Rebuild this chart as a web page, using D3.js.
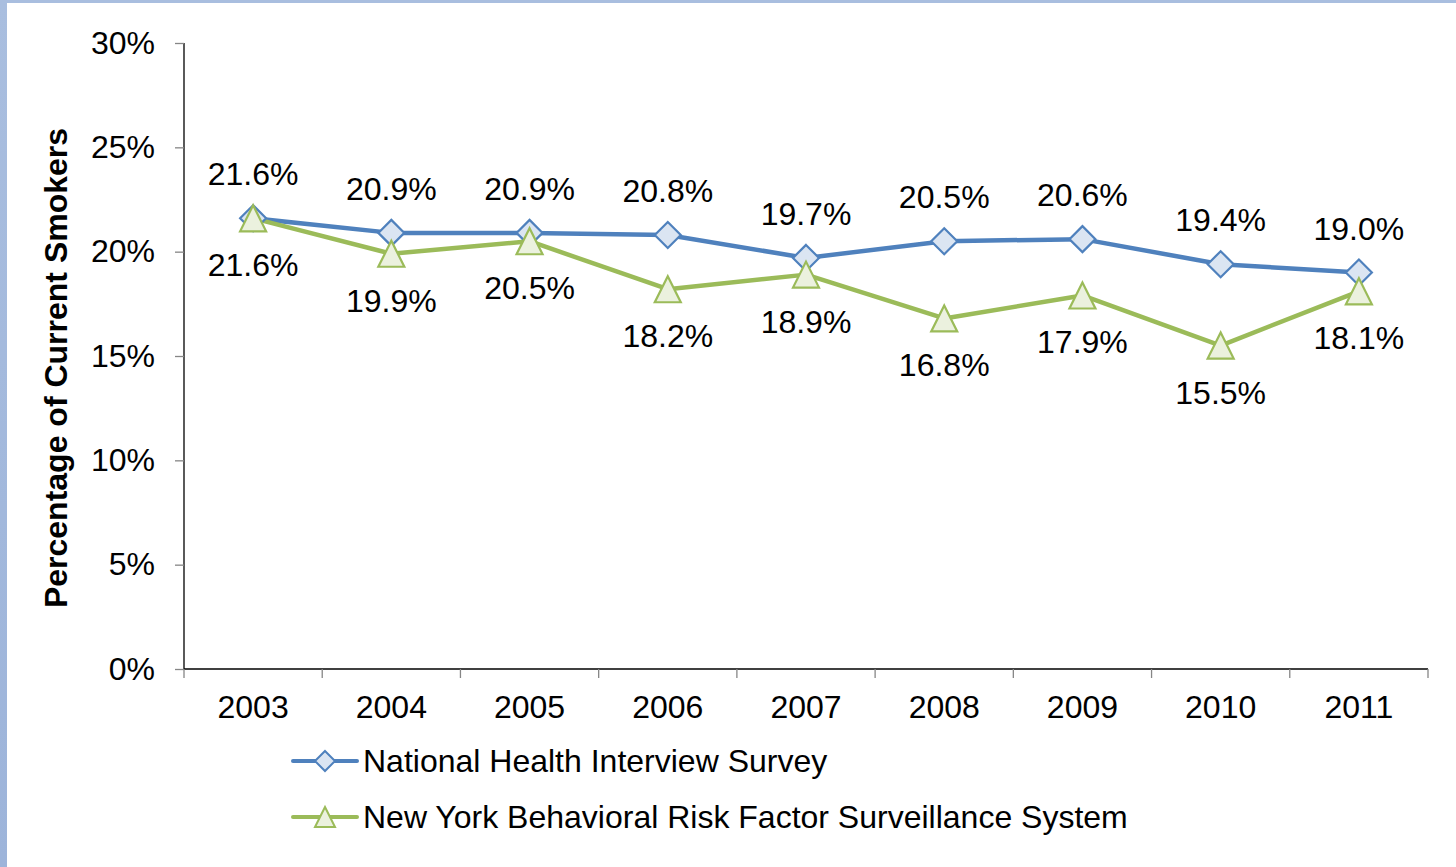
<!DOCTYPE html>
<html>
<head>
<meta charset="utf-8">
<script src="https://cdn.jsdelivr.net/npm/d3@7"></script>
<style>
  html, body { margin: 0; padding: 0; background: #fff; }
  svg { display: block; font-family: "Liberation Sans", Arial, sans-serif; }
</style>
</head>
<body>
<svg id="chart" width="1456" height="867"></svg>
<script>
// Smoking prevalence, 2003–2011
const years = ["2003", "2004", "2005", "2006", "2007", "2008", "2009", "2010", "2011"];
const nhisValues = [21.6, 20.9, 20.9, 20.8, 19.7, 20.5, 20.6, 19.4, 19.0];
const nyBrfssValues = [21.6, 19.9, 20.5, 18.2, 18.9, 16.8, 17.9, 15.5, 18.1];
const yTicks = [0, 5, 10, 15, 20, 25, 30];
const seriesNames = ["National Health Interview Survey", "New York Behavioral Risk Factor Surveillance System"];

const svg = d3.select("#chart");
const W = 1456, H = 867;
const FS = 32;

// frame strips along the left and top edges
const grad = svg.append("defs").append("linearGradient")
  .attr("id", "edge").attr("x1", 0).attr("y1", 0).attr("x2", 0).attr("y2", 1);
grad.append("stop").attr("offset", "0%").attr("stop-color", "#a9bedf");
grad.append("stop").attr("offset", "100%").attr("stop-color", "#9db4da");
svg.append("rect").attr("x", 0).attr("y", 0).attr("width", W).attr("height", 3).attr("fill", "#a9bedf");
svg.append("rect").attr("x", 0).attr("y", 0).attr("width", 7).attr("height", H).attr("fill", "url(#edge)");

const plotLeft = 184, plotRight = 1428, plotTop = 43, plotBottom = 669;

const x = d3.scaleBand().domain(years).range([plotLeft, plotRight]).padding(0);
const y = d3.scaleLinear().domain([0, 30]).range([plotBottom, plotTop]);
const cx = d => x(d) + x.bandwidth() / 2;

// y axis
const yAxis = svg.append("g").attr("transform", `translate(${plotLeft},0)`)
  .call(d3.axisLeft(y).tickValues(yTicks).tickFormat(d => d + "%").tickSize(9).tickPadding(20));
yAxis.select(".domain").attr("stroke", "#000").attr("stroke-width", 1.3).attr("d", `M0,${plotTop}V${plotBottom}`);
yAxis.selectAll(".tick line").attr("stroke", "#868686").attr("stroke-width", 1.3);
yAxis.selectAll(".tick text").attr("font-size", FS).attr("fill", "#000")
  .attr("font-family", "Liberation Sans, Arial, sans-serif");

// x axis with boundary ticks between categories
const xAxis = svg.append("g").attr("transform", `translate(0,${plotBottom})`)
  .call(d3.axisBottom(x).tickSize(0).tickPadding(26));
xAxis.select(".domain").attr("stroke", "#000").attr("stroke-width", 1.3).attr("d", `M${plotLeft},0H${plotRight}`);
xAxis.selectAll(".tick text").attr("font-size", FS).attr("fill", "#000")
  .attr("font-family", "Liberation Sans, Arial, sans-serif");
const bounds = years.map(d => x(d)).concat([x(years[years.length - 1]) + x.bandwidth()]);
xAxis.selectAll(".bound").data(bounds).join("line")
  .attr("x1", d => d).attr("x2", d => d).attr("y1", 0).attr("y2", 9)
  .attr("stroke", "#868686").attr("stroke-width", 1.3);

// y axis title
svg.append("text")
  .attr("transform", `translate(67,${(plotTop + plotBottom) / 2 + 12}) rotate(-90)`)
  .attr("text-anchor", "middle").attr("font-size", FS).attr("font-weight", "bold")
  .text("Percentage of Current Smokers");

const line = d3.line().x((d, i) => cx(years[i])).y(d => y(d));

const blue = "#4f81bd", blueFill = "#dbe5f2";
const green = "#9bbb59", greenFill = "#ebf1de";

const diamond = s => `M0,${-s}L${s},0L0,${s}L${-s},0Z`;
const triangle = s => `M0,${-s}L${s},${s}L${-s},${s}Z`;

// NHIS series
svg.append("path").datum(nhisValues).attr("d", line)
  .attr("fill", "none").attr("stroke", blue).attr("stroke-width", 4.5).attr("stroke-linejoin", "round");
// NY BRFSS series
svg.append("path").datum(nyBrfssValues).attr("d", line)
  .attr("fill", "none").attr("stroke", green).attr("stroke-width", 4.5).attr("stroke-linejoin", "round");

svg.selectAll(".mk-blue").data(nhisValues).join("path")
  .attr("transform", (d, i) => `translate(${cx(years[i])},${y(d)})`)
  .attr("d", diamond(13)).attr("fill", blueFill).attr("stroke", blue).attr("stroke-width", 2.2);
svg.selectAll(".mk-green").data(nyBrfssValues).join("path")
  .attr("transform", (d, i) => `translate(${cx(years[i])},${y(d)})`)
  .attr("d", triangle(13)).attr("fill", greenFill).attr("stroke", green).attr("stroke-width", 2.2);

// value labels: NHIS above, NY BRFSS below
svg.selectAll(".lbl-blue").data(nhisValues).join("text")
  .attr("x", (d, i) => cx(years[i])).attr("y", d => y(d) - 33)
  .attr("text-anchor", "middle").attr("font-size", FS).attr("fill", "#000")
  .text(d => d.toFixed(1) + "%");
svg.selectAll(".lbl-green").data(nyBrfssValues).join("text")
  .attr("x", (d, i) => cx(years[i])).attr("y", d => y(d) + 58)
  .attr("text-anchor", "middle").attr("font-size", FS).attr("fill", "#000")
  .text(d => d.toFixed(1) + "%");

// legend
const legend = svg.append("g");
const rows = [
  { name: seriesNames[0], color: blue, fill: blueFill, shape: diamond(10), y: 761 },
  { name: seriesNames[1], color: green, fill: greenFill, shape: triangle(10), y: 817 }
];
rows.forEach(r => {
  legend.append("line").attr("x1", 293).attr("x2", 357).attr("y1", r.y).attr("y2", r.y)
    .attr("stroke", r.color).attr("stroke-width", 4).attr("stroke-linecap", "round");
  legend.append("path").attr("transform", `translate(325,${r.y})`).attr("d", r.shape)
    .attr("fill", r.fill).attr("stroke", r.color).attr("stroke-width", 2);
  legend.append("text").attr("x", 363).attr("y", r.y + 11).attr("font-size", FS).attr("fill", "#000")
    .text(r.name);
});
</script>
</body>
</html>
